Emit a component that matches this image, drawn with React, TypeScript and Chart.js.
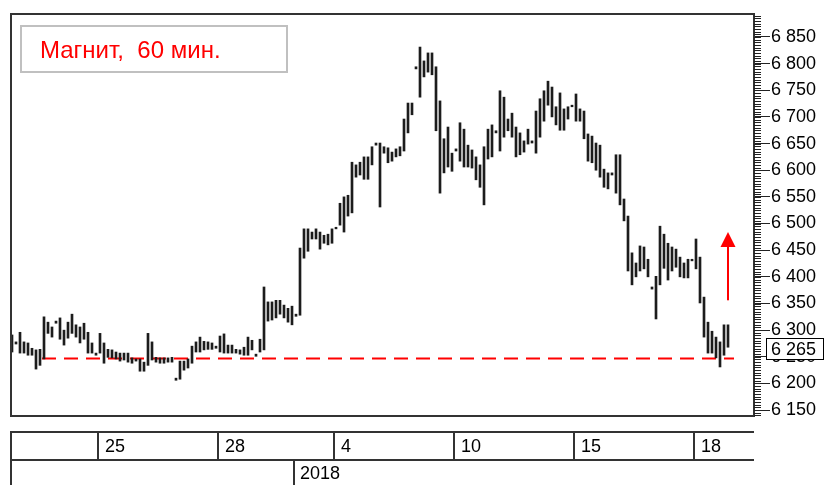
import React, { useEffect, useRef } from 'react';
import { Chart, registerables } from 'chart.js';

Chart.register(...registerables);

// ---- data (hourly bars, high / low) ----
const barHigh = [
  6291, 6278, 6296, 6278, 6276, 6266, 6263, 6264, 6325, 6315,
  6306, 6317, 6323, 6300, 6315, 6330, 6310, 6306, 6313, 6296,
  6276, 6257, 6294, 6276, 6264, 6263, 6259, 6257, 6257, 6257,
  6248, 6246, 6246, 6240, 6294, 6278, 6249, 6248, 6248, 6248,
  6249, 6210, 6242, 6242, 6246, 6270, 6278, 6287, 6279, 6278,
  6276, 6270, 6289, 6293, 6272, 6272, 6264, 6263, 6268, 6287,
  6281, 6255, 6283, 6381, 6353, 6353, 6356, 6356, 6347, 6341,
  6345, 6330, 6454, 6490, 6490, 6484, 6490, 6484, 6478, 6480,
  6490, 6493, 6538, 6550, 6553, 6615, 6610, 6615, 6625, 6625,
  6644, 6651, 6651, 6644, 6642, 6634, 6640, 6644, 6696, 6726,
  6726, 6794, 6831, 6805, 6820, 6820, 6794, 6730, 6659, 6681,
  6632, 6640, 6689, 6677, 6647, 6638, 6625, 6610, 6644, 6677,
  6685, 6674, 6749, 6737, 6696, 6707, 6681, 6670, 6655, 6677,
  6655, 6711, 6734, 6749, 6767, 6756, 6719, 6745, 6715, 6719,
  6722, 6743, 6715, 6711, 6668, 6664, 6651, 6647, 6602, 6595,
  6595, 6629, 6629, 6546, 6514, 6445, 6426, 6458, 6456, 6433,
  6381, 6401, 6495, 6480, 6463, 6456, 6452, 6437, 6426, 6433,
  6433, 6471, 6437, 6362, 6315, 6298, 6287, 6278, 6310, 6310,
];
const barLow = [
  6259, 6274, 6257, 6257, 6253, 6253, 6227, 6234, 6246, 6294,
  6287, 6313, 6283, 6272, 6285, 6294, 6287, 6276, 6283, 6257,
  6257, 6253, 6257, 6238, 6249, 6248, 6246, 6242, 6244, 6240,
  6238, 6242, 6223, 6223, 6234, 6244, 6240, 6238, 6238, 6240,
  6240, 6206, 6208, 6225, 6229, 6238, 6259, 6259, 6263, 6264,
  6264, 6266, 6259, 6257, 6257, 6257, 6257, 6255, 6253, 6253,
  6263, 6251, 6259, 6263, 6317, 6319, 6323, 6330, 6323, 6315,
  6310, 6326, 6328, 6435, 6448, 6471, 6471, 6452, 6463, 6460,
  6463, 6490, 6497, 6484, 6514, 6520, 6587, 6591, 6583, 6583,
  6610, 6647, 6531, 6632, 6614, 6617, 6625, 6627, 6636, 6670,
  6704, 6790, 6737, 6775, 6784, 6779, 6674, 6557, 6595, 6606,
  6598, 6636, 6617, 6606, 6606, 6604, 6582, 6568, 6535, 6621,
  6625, 6670, 6636, 6662, 6674, 6662, 6625, 6629, 6634, 6649,
  6651, 6632, 6662, 6692, 6722, 6700, 6685, 6675, 6675, 6696,
  6719, 6692, 6692, 6659, 6617, 6614, 6600, 6587, 6568, 6565,
  6591, 6557, 6535, 6505, 6411, 6385, 6400, 6411, 6415, 6400,
  6377, 6321, 6385, 6416, 6394, 6411, 6418, 6400, 6398, 6398,
  6430, 6415, 6351, 6287, 6257, 6257, 6248, 6231, 6253, 6268,
];

const titleText = 'Магнит,  60 мин.';
const yTickValues = [6150, 6200, 6250, 6300, 6350, 6400, 6450, 6500, 6550, 6600, 6650, 6700, 6750, 6800, 6850];
const yMin = 6139;
const yMax = 6893;
const minorStep = 5;
const supportLevel = 6247;
const supportStart = 7.5;
const supportEnd = 180.5;
const lastPrice = 6265;
const arrowFrom = 6356;
const arrowTo = 6484;
const arrowIndex = 179;
const dayStarts = [22, 52, 81, 111, 141, 171];
const dayLabels = ['25', '28', '4', '10', '15', '18'];
const yearStart = 71;
const yearLabel = '2018';

const FONT = '"Liberation Sans", Arial, sans-serif';
const fmt = (v: number) => `${Math.floor(v / 1000)} ${String(Math.round(v) % 1000).padStart(3, '0')}`;

const overlayPlugin = {
  id: 'overlay',
  beforeDraw(chart: any) {
    const { ctx, width, height } = chart;
    ctx.save();
    ctx.fillStyle = '#ffffff';
    ctx.fillRect(0, 0, width, height);
    ctx.restore();
  },
  afterDraw(chart: any) {
    const { ctx, chartArea: a, scales } = chart;
    const x = scales.x;
    const y = scales.y;
    ctx.save();

    // frame
    ctx.strokeStyle = '#333333';
    ctx.lineWidth = 2;
    ctx.strokeRect(a.left, a.top, a.right - a.left, a.bottom - a.top);

    // minor ticks on price axis
    ctx.beginPath();
    ctx.lineWidth = 1;
    ctx.strokeStyle = '#222222';
    for (let v = Math.ceil(yMin / minorStep) * minorStep; v <= yMax; v += minorStep) {
      const py = Math.round(y.getPixelForValue(v)) + 0.5;
      ctx.moveTo(a.right, py);
      ctx.lineTo(a.right + 7, py);
    }
    ctx.stroke();

    // title box
    ctx.fillStyle = '#ffffff';
    ctx.fillRect(21, 26, 266, 46);
    ctx.strokeStyle = '#c0c0c0';
    ctx.lineWidth = 2;
    ctx.strokeRect(21, 26, 266, 46);
    ctx.fillStyle = '#ff0000';
    ctx.font = `24px ${FONT}`;
    ctx.textBaseline = 'alphabetic';
    ctx.textAlign = 'left';
    ctx.fillText(titleText, 40, 58);

    // arrow
    const ax = x.getPixelForValue(arrowIndex);
    const tip = y.getPixelForValue(arrowTo);
    const base = y.getPixelForValue(arrowFrom);
    ctx.fillStyle = '#ff0000';
    ctx.fillRect(ax - 1, tip + 14, 2, base - tip - 14);
    ctx.beginPath();
    ctx.moveTo(ax, tip);
    ctx.lineTo(ax - 7.5, tip + 15);
    ctx.lineTo(ax + 7.5, tip + 15);
    ctx.closePath();
    ctx.fill();

    // last price box
    const cy = Math.round(y.getPixelForValue(lastPrice));
    ctx.fillStyle = '#ffffff';
    ctx.fillRect(766, cy - 11, 58, 22);
    ctx.strokeStyle = '#000000';
    ctx.lineWidth = 1;
    ctx.strokeRect(766.5, cy - 10.5, 57, 21);
    ctx.fillStyle = '#000000';
    ctx.font = `18px ${FONT}`;
    ctx.textBaseline = 'middle';
    ctx.fillText(fmt(lastPrice), 771, cy + 1);

    // date strip
    const top = 432;
    const mid = 460;
    const bottom = 486;
    ctx.strokeStyle = '#333333';
    ctx.lineWidth = 2;
    ctx.beginPath();
    ctx.moveTo(a.left - 1, top);
    ctx.lineTo(a.right, top);
    ctx.moveTo(a.left - 1, mid);
    ctx.lineTo(a.right, mid);
    ctx.moveTo(a.left, top);
    ctx.lineTo(a.left, bottom);
    dayStarts.forEach((d) => {
      const sx = Math.round(x.getPixelForValue(d - 0.5));
      ctx.moveTo(sx, top);
      ctx.lineTo(sx, mid);
    });
    const yx = Math.round(x.getPixelForValue(yearStart - 0.5));
    ctx.moveTo(yx, mid);
    ctx.lineTo(yx, bottom);
    ctx.stroke();

    ctx.fillStyle = '#000000';
    ctx.font = `18px ${FONT}`;
    ctx.textBaseline = 'middle';
    dayStarts.forEach((d, i) => {
      const sx = Math.round(x.getPixelForValue(d - 0.5));
      ctx.fillText(dayLabels[i], sx + 7, (top + mid) / 2 + 1);
    });
    ctx.fillText(yearLabel, yx + 6, 474);

    ctx.restore();
  },
};

export default function App() {
  const ref = useRef<HTMLCanvasElement | null>(null);

  useEffect(() => {
    document.body.style.margin = '0';
    const canvas = ref.current;
    if (!canvas) return;
    const bars = barHigh.map((h, i) => ({ x: i, y: [barLow[i], h] }));
    const chart = new Chart(canvas, {
      type: 'bar',
      data: {
        datasets: [
          {
            type: 'bar',
            data: bars as any,
            backgroundColor: '#1c1c1c',
            borderWidth: 0,
            barThickness: 2,
          } as any,
          {
            type: 'line',
            data: [
              { x: supportStart, y: supportLevel },
              { x: supportEnd, y: supportLevel },
            ],
            borderColor: '#ff0000',
            borderWidth: 2,
            borderDash: [14, 8],
            pointRadius: 0,
            fill: false,
          } as any,
        ],
      },
      options: {
        animation: false,
        responsive: false,
        maintainAspectRatio: false,
        layout: { padding: { left: 11, top: 14, right: 0, bottom: 69 } },
        plugins: {
          legend: { display: false },
          tooltip: { enabled: false },
          title: { display: false },
        },
        scales: {
          x: {
            type: 'linear',
            min: -0.25,
            max: 185.5,
            offset: false,
            display: false,
          },
          y: {
            type: 'linear',
            position: 'right',
            min: yMin,
            max: yMax,
            afterFit: (s: any) => {
              s.width = 72;
            },
            afterBuildTicks: (s: any) => {
              s.ticks = yTickValues.map((value) => ({ value }));
            },
            ticks: {
              autoSkip: false,
              padding: 1,
              color: '#000000',
              font: { family: FONT, size: 18 },
              callback: (v: any) => fmt(Number(v)),
            },
            grid: {
              drawOnChartArea: false,
              drawTicks: true,
              tickLength: 16,
              tickColor: '#222222',
              tickWidth: 1,
            },
            border: { display: false },
          },
        },
      } as any,
      plugins: [overlayPlugin],
    });
    return () => chart.destroy();
  }, []);

  return (
    <div style={{ width: 826, height: 485, overflow: 'hidden' }}>
      <canvas ref={ref} width={826} height={485} style={{ display: 'block', width: 826, height: 485 }} />
    </div>
  );
}
